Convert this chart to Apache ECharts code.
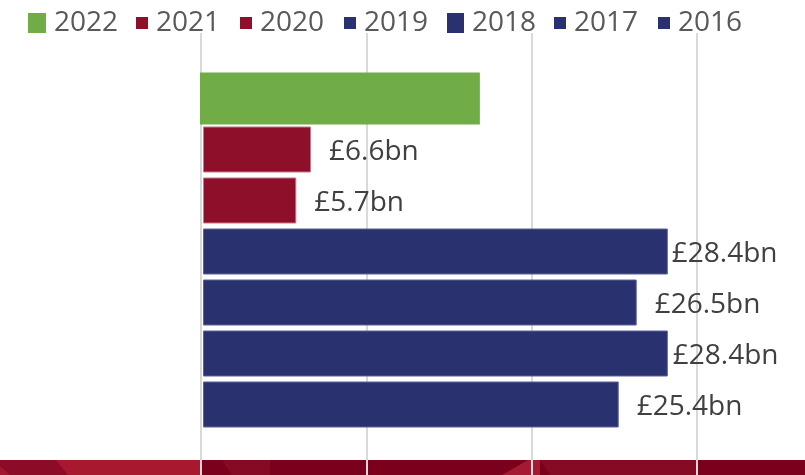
<!DOCTYPE html>
<html>
<head>
<meta charset="utf-8">
<script src="https://cdn.jsdelivr.net/npm/echarts@6/dist/echarts.min.js"></script>
<style>
  html, body { margin: 0; padding: 0; background: #ffffff; }
  #chart { width: 805px; height: 475px; }
</style>
</head>
<body>
<div id="chart"></div>
<script>
// Annual totals (£bn), top to bottom
const years = ['2022', '2021', '2020', '2019', '2018', '2017', '2016'];
const values = [17.1, 6.6, 5.7, 28.4, 26.5, 28.4, 25.4];
const labelled = [false, true, true, true, true, true, true];
const axisTicks = [0, 10, 20, 30];

// Styling per year (the current year is drawn in its own, slightly wider, layer)
const barColors = ['#70ad47', '#8e0f29', '#8e0f29', '#29326e', '#29326e', '#29326e', '#29326e'];
const barBorders = ['#70ad47', '#c27a8a', '#c27a8a', '#5a6298', '#5a6298', '#5a6298', '#5a6298'];
const barWidths = [52, 46, 46, 46, 46, 46, 46];
const barLayer = [2, 1, 1, 1, 1, 1, 1];
const labelGaps = [18, 18, 18, 4, 18, 5, 18];
const legendLeft = [28, 136, 240, 344, 447, 554, 658];
const legendSize = [[18, 20], [12, 12], [12, 12], [12, 12], [17, 20], [12, 12], [12, 12]];

const FONT = '"Open Sans", "Noto Sans", sans-serif';

const chart = echarts.init(document.getElementById('chart'), null, { renderer: 'canvas' });

const series = years.map((y, i) => ({
  name: y,
  type: 'bar',
  xAxisIndex: barLayer[i],
  yAxisIndex: barLayer[i],
  stack: 'years',
  barWidth: barWidths[i],
  clip: false,
  data: years.map((_, j) => (j === i ? values[i] : '-')),
  itemStyle: {
    color: barColors[i],
    borderColor: barBorders[i],
    borderWidth: i === 0 ? 0 : 1
  },
  label: {
    show: labelled[i],
    position: 'right',
    distance: labelGaps[i],
    offset: [0, 3],
    formatter: p => '£' + Number(p.value).toFixed(1) + 'bn',
    fontFamily: FONT,
    fontSize: 28,
    color: '#404040'
  },
  emphasis: { disabled: true },
  animation: false
}));

const legends = years.map((y, i) => ({
  data: [y],
  left: legendLeft[i],
  top: 8,
  itemWidth: legendSize[i][0],
  itemHeight: legendSize[i][1],
  icon: 'rect',
  itemStyle: { borderWidth: 0 },
  padding: 0,
  selectedMode: false,
  textStyle: {
    fontFamily: FONT,
    fontSize: 28,
    lineHeight: 30,
    color: '#595959',
    padding: [0, 0, 0, 3]
  }
}));

const hiddenValueAxis = (grid) => ({
  gridIndex: grid, type: 'value',
  min: axisTicks[0], max: axisTicks[axisTicks.length - 1], interval: axisTicks[1] - axisTicks[0],
  axisLabel: { show: false }, axisLine: { show: false }, axisTick: { show: false },
  splitLine: { show: false }
});

const hiddenCategoryAxis = (grid) => ({
  gridIndex: grid, type: 'category', data: years, inverse: true,
  axisLabel: { show: false }, axisLine: { show: false }, axisTick: { show: false },
  splitLine: { show: false }
});

const gridAxis = hiddenValueAxis(0);
gridAxis.splitLine = { show: true, lineStyle: { color: '#d9d9d9', width: 2 } };

const option = {
  backgroundColor: '#ffffff',
  animation: false,
  legend: legends,
  grid: [
    { left: 201, right: 108, top: 33, bottom: 0 },
    { left: 203, right: 111, top: 73, bottom: 45 },
    { left: 200, right: 114, top: 73, bottom: 45 }
  ],
  xAxis: [gridAxis, hiddenValueAxis(1), hiddenValueAxis(2)],
  yAxis: [hiddenCategoryAxis(0), hiddenCategoryAxis(1), hiddenCategoryAxis(2)],
  // Decorative footer band
  graphic: [
    { type: 'rect', z: -10, silent: true, shape: { x: 0, y: 460, width: 805, height: 15 }, style: { fill: '#7a001c' } },
    { type: 'polygon', z: -9, silent: true, shape: { points: [[0, 460], [60, 460], [68, 475], [0, 475]] }, style: { fill: '#8c0b26' } },
    { type: 'polygon', z: -9, silent: true, shape: { points: [[0, 466], [10, 475], [0, 475]] }, style: { fill: '#a3172e' } },
    { type: 'polygon', z: -9, silent: true, shape: { points: [[56, 460], [201, 460], [201, 475], [68, 475]] }, style: { fill: '#a8182f' } },
    { type: 'polygon', z: -9, silent: true, shape: { points: [[222, 460], [270, 460], [270, 475], [232, 475]] }, style: { fill: '#870a25' } },
    { type: 'polygon', z: -9, silent: true, shape: { points: [[540, 460], [540, 475], [502, 475], [528, 460]] }, style: { fill: '#a51a32' } },
    { type: 'polygon', z: -9, silent: true, shape: { points: [[540, 460], [697, 460], [697, 475], [550, 475]] }, style: { fill: '#870a25' } }
  ],
  series: series
};

chart.setOption(option);
</script>
</body>
</html>
